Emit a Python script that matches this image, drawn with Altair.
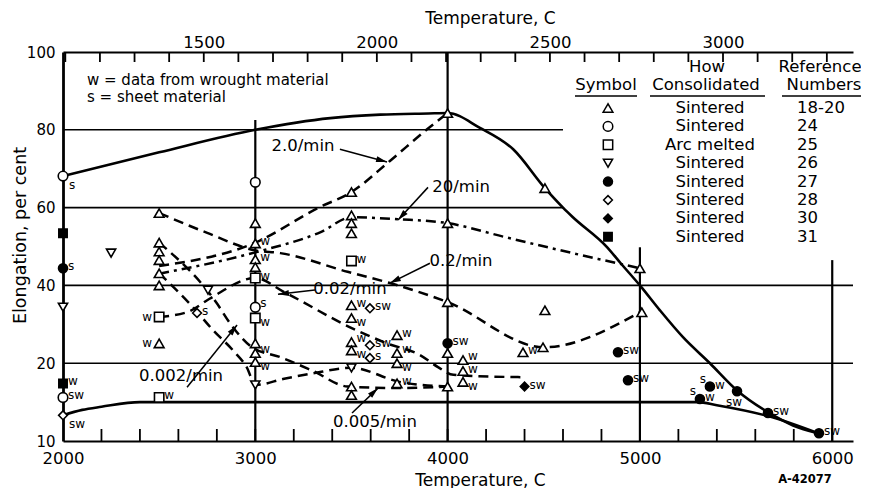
import math
import altair as alt
import pandas as pd

FONT = "DejaVu Sans"
W, H = 790, 389
T_MIN, T_MAX = 2000, 6108

# ---------------- envelope curves (solid) ----------------
upper_T = [2000, 2500, 3000, 3390, 3650, 3900, 4000, 4168, 4341, 4506, 4600, 4650,
           4830, 4900, 5000, 5104, 5224, 5364, 5505, 5666, 5796, 5926]
upper_E = [68.1, 74.2, 80.0, 83.0, 83.9, 84.2, 84.3, 80.5, 75.0, 65.0, 60.0, 57.6,
           49.8, 45.7, 40.0, 33.6, 26.7, 20.0, 16.5, 13.7, 12.0, 11.0]
lower_T = [2000, 2100, 2200, 2400, 2600, 3000, 4000, 5000, 5300, 5400, 5666, 5926]
lower_E = [13.3, 14.0, 14.4, 15.0, 15.0, 15.0, 15.0, 15.0, 15.0, 14.6, 13.2, 11.0]

# ---------------- strain-rate curves (dashed) ----------------
r20_T = [2500, 3000, 3340, 3500, 3750, 4000, 4300, 4650, 5000]
r20_E = [43.0, 48.5, 53.7, 57.5, 57.0, 56.0, 52.4, 48.3, 44.4]
r2_T = [2500, 3000, 3330, 3500, 3700, 3890, 4000]
r2_E = [45.0, 51.0, 60.0, 64.0, 72.0, 80.0, 84.3]
r02_T = [2500, 2750, 3000, 3130, 3480, 3700, 4000, 4500, 5000]
r02_E = [58.6, 53.5, 49.0, 48.3, 43.5, 40.6, 35.7, 24.1, 33.1]
r002_T = [2500, 2650, 2760, 3000, 3150, 3490, 3685, 3856, 3950, 4030, 4390]
r002_E = [31.9, 33.2, 36.5, 41.9, 38.3, 29.3, 25.1, 22.1, 19.5, 18.5, 18.2]
r0005_T = [2500, 2800, 2868, 2983, 3128, 3300, 3480, 3750, 4000]
r0005_E = [51.0, 35.4, 30.3, 24.1, 21.6, 19.0, 17.0, 16.8, 17.0]
r0002_T = [2500, 2676, 2780, 2884, 2957, 3000, 3150, 3300, 3500, 3750, 4000]
r0002_E = [43.1, 34.4, 28.5, 23.3, 19.4, 17.2, 18.0, 18.7, 19.4, 17.6, 17.0]

# ---------------- data points ----------------
pt_T = [2000, 2000, 2000, 2000, 2000, 2000, 2000, 2250,
        2500, 2500, 2500, 2500, 2500, 2500, 2500, 2500, 2500, 2697, 2754,
        3000, 3000, 3000, 3000, 3000, 3000, 3000, 3000, 3000, 3000, 3000, 3000,
        3500, 3500, 3500, 3500, 3500, 3500, 3596, 3500, 3737, 3500, 3596, 3500,
        3737, 3596, 3737, 3500, 3500, 3500, 3737,
        4000, 4000, 4000, 4000, 4000, 4000, 4080, 4080, 4080, 4392, 4496, 4506,
        4506, 4400, 5000, 5010, 4886, 4938, 5364, 5312, 5505, 5666, 5931]
pt_E = [68.1, 53.4, 44.4, 34.4, 17.4, 15.6, 13.3, 48.3,
        58.6, 51.0, 48.7, 46.5, 43.1, 40.0, 31.9, 25.1, 15.6, 32.9, 38.8,
        66.5, 56.0, 50.8, 46.7, 44.7, 41.9, 34.4, 31.6, 25.1, 22.6, 20.3, 17.2,
        64.0, 58.0, 56.0, 53.4, 46.3, 34.9, 34.1, 31.6, 27.2, 25.4, 24.6, 23.3,
        22.6, 21.3, 20.0, 19.4, 17.0, 15.9, 17.4,
        84.3, 56.0, 35.7, 25.1, 22.6, 17.0, 20.8, 19.0, 17.6, 22.8, 24.1, 33.6,
        65.0, 17.0, 44.4, 33.1, 22.8, 17.8, 17.0, 15.4, 16.4, 13.6, 11.0]
pt_sym = ["circ", "fsq", "fcirc", "itri", "fsq", "circ", "diam", "itri",
          "tri", "tri", "tri", "tri", "tri", "tri", "sq", "tri", "sq", "diam", "itri",
          "circ", "tri", "tri", "tri", "tri", "sq", "circ", "sq", "tri", "tri", "tri", "itri",
          "tri", "tri", "tri", "tri", "sq", "tri", "diam", "tri", "tri", "tri", "diam", "tri",
          "tri", "diam", "tri", "itri", "tri", "tri", "tri",
          "tri", "tri", "tri", "fcirc", "tri", "tri", "tri", "tri", "tri", "tri", "tri", "tri",
          "tri", "fdiam", "tri", "tri", "fcirc", "fcirc", "fcirc", "fcirc", "fcirc", "fcirc", "fcirc"]
pt_lab = ["s", "", "s", "", "w", "sw", "sw", "",
          "", "", "", "", "", "", "w", "w", "w", "s", "",
          "", "", "w", "w", "", "w", "s", "w", "", "w", "w", "",
          "", "", "", "", "w", "w", "sw", "w", "w", "w", "sw", "w",
          "w", "s", "w", "", "", "", "w",
          "", "", "", "sw", "", "", "w", "w", "w", "w", "", "",
          "", "sw", "", "", "sw", "sw", "s|w", "s|w", "sw", "sw", "sw"]
pt_pos = ["br", "", "r", "", "r", "r", "br", "",
          "", "", "", "", "", "", "l", "l", "r", "r", "",
          "", "", "r", "r", "", "r", "ru", "rd", "", "ru", "rd", "",
          "", "", "", "", "r", "r", "r", "rd", "r", "ru", "r", "rd",
          "ru", "r", "rd", "", "", "", "r",
          "", "", "", "r", "", "", "ru", "r", "rd", "r", "", "",
          "", "r", "", "", "r", "r", "tl|r", "tl|r", "b", "r", "r"]

# ---------------- legend table ----------------
leg_sym = ["tri", "circ", "sq", "itri", "fcirc", "diam", "fdiam", "fsq"]
leg_how = ["Sintered", "Sintered", "Arc melted", "Sintered", "Sintered",
           "Sintered", "Sintered", "Sintered"]
leg_ref = ["18-20", "24", "25", "26", "27", "28", "30", "31"]

# ---------------- annotations ----------------
rate_text = ["2.0/min", "20/min", "0.2/min", "0.02/min", "0.002/min", "0.005/min"]
rate_lab_T = [3248, 4070, 4070, 3492, 2614, 3622]
rate_lab_E = [75.8, 65.2, 46.2, 39.0, 18.3, 12.4]
arr_T1 = [3440, 3898, 3908, 3310, 2645, 3503]
arr_E1 = [75.0, 65.2, 45.7, 38.8, 16.9, 13.6]
arr_T2 = [3685, 3742, 3700, 3118, 2905, 3638]
arr_E2 = [71.7, 56.8, 40.6, 37.7, 29.8, 16.8]

# grid lines
hgrid_E = [20, 40, 60, 80]
hgrid_T2 = [T_MAX, T_MAX, 4600, 4600]
vgrid_T = [3000, 4000, 5000, 6000]
vgrid_E2 = [82.5, 100, 49.8, 46.5]

bottom_tick_T = list(range(2200, 6001, 200))
top_tick_C = list(range(1100, 3301, 100))
top_label_C = [1500, 2000, 2500, 3000]

# ---------------- helpers ----------------
SYM_DOMAIN = ["tri", "circ", "sq", "itri", "fcirc", "diam", "fdiam", "fsq"]
SHAPES = ["triangle-up", "circle", "square", "triangle-down", "circle", "diamond", "diamond", "square"]
SIZES = [95, 70, 70, 95, 70, 85, 85, 70]
FILLS = ["white", "white", "white", "white", "black", "white", "black", "black"]

xs = alt.Scale(domain=[T_MIN, T_MAX], nice=False, zero=False)
ys = alt.Scale(domain=[10, 20, 100], range=[H, 0.8 * H, 0], nice=False, zero=False)


def c_to_f(c):
    return c * 9 / 5 + 32


def px(t):
    return (t - T_MIN) * W / (T_MAX - T_MIN)


def py(e):
    if e <= 20:
        return H - (e - 10) * 0.2 * H / 10
    return 0.8 * H - (e - 20) * 0.8 * H / 80


def curve_df(T, E, name):
    return pd.DataFrame({"T": T, "E": E, "curve": name, "order": list(range(len(T)))})


env_df = pd.concat([curve_df(upper_T, upper_E, "upper"), curve_df(lower_T, lower_E, "lower")])
rate_df = pd.concat([
    curve_df(r2_T, r2_E, "2.0/min"), curve_df(r20_T, r20_E, "20/min"),
    curve_df(r02_T, r02_E, "0.2/min"), curve_df(r002_T, r002_E, "0.02/min"),
    curve_df(r0005_T, r0005_E, "0.005/min"), curve_df(r0002_T, r0002_E, "0.002/min")])
RATE_NAMES = ["2.0/min", "20/min", "0.2/min", "0.02/min", "0.005/min", "0.002/min"]
RATE_DASH = [[10, 6], [10, 5, 3, 5], [10, 6], [10, 6], [10, 6], [10, 6]]

pts_df = pd.DataFrame({"T": pt_T, "E": pt_E, "sym": pt_sym})
lab_rows = []
for t, e, lab, pos in zip(pt_T, pt_E, pt_lab, pt_pos):
    if not lab:
        continue
    for l, p in zip(lab.split("|"), pos.split("|")):
        lab_rows.append({"T": t, "E": e, "lab": l, "pos": p})
labs_df = pd.DataFrame(lab_rows)

arr_df = pd.DataFrame({"T1": arr_T1, "E1": arr_E1, "T2": arr_T2, "E2": arr_E2})
arr_df["ang"] = [
    (math.degrees(math.atan2(px(b) - px(a), -(py(d) - py(c)))) + 360) % 360
    for a, c, b, d in zip(arr_T1, arr_E1, arr_T2, arr_E2)
]
ARROW = "M0,0L-0.55,2L0.55,2Z"

hgrid_df = pd.DataFrame({"E": hgrid_E, "T1": [T_MIN] * 4, "T2": hgrid_T2})
vgrid_df = pd.DataFrame({"T": vgrid_T, "E1": [10] * 4, "E2": vgrid_E2})
bt_df = pd.DataFrame({"T": bottom_tick_T})
tt_df = pd.DataFrame({"F": [c_to_f(c) for c in top_tick_C]})

shape_enc = alt.Shape("sym:N", scale=alt.Scale(domain=SYM_DOMAIN, range=SHAPES), legend=None)
size_enc = alt.Size("sym:N", scale=alt.Scale(domain=SYM_DOMAIN, range=SIZES), legend=None)
fill_enc = alt.Fill("sym:N", scale=alt.Scale(domain=SYM_DOMAIN, range=FILLS), legend=None)

# ---------------- axes ----------------
bottom_axis = alt.Axis(
    orient="bottom", values=[2000, 3000, 4000, 5000, 6000], format="d",
    ticks=False, tickSize=0, grid=False, domain=True, domainColor="black", domainWidth=2.2,
    labelFont=FONT, labelFontSize=16.5, labelColor="black", labelPadding=22,
    labelBaseline="alphabetic", labelFlush=False,
    title="Temperature, C", titleFont=FONT, titleFontSize=17, titleFontWeight="normal",
    titleColor="black", titleX=417, titleY=44, titleBaseline="alphabetic", titleAlign="center")
top_axis = alt.Axis(
    orient="top", values=[c_to_f(c) for c in top_label_C],
    labelExpr="format(round((datum.value - 32) * 5 / 9), 'd')",
    ticks=False, tickSize=0, grid=False, domain=True, domainColor="black", domainWidth=2.2,
    labelFont=FONT, labelFontSize=16.5, labelColor="black", labelPadding=5,
    labelBaseline="alphabetic", labelFlush=False,
    title="Temperature, C", titleFont=FONT, titleFontSize=17, titleFontWeight="normal",
    titleColor="black", titleX=427, titleY=-29, titleBaseline="alphabetic", titleAlign="center")
left_axis = alt.Axis(
    orient="left", values=[10, 20, 40, 60, 80, 100], ticks=False, tickSize=0, grid=False,
    domain=True, domainColor="black", domainWidth=2.8,
    labelFont=FONT, labelFontSize=15, labelColor="black", labelPadding=8,
    title="Elongation, per cent", titleFont=FONT, titleFontSize=17.5, titleFontWeight="normal",
    titleColor="black", titleX=-38, titleY=183, titleAngle=270, titleBaseline="alphabetic",
    titleAlign="center")


def X(f, axis=None):
    return alt.X(f, type="quantitative", scale=xs, axis=axis)


def Y(f, axis=None):
    return alt.Y(f, type="quantitative", scale=ys, axis=axis)


def PX(f):
    return alt.X(f, type="quantitative", scale=None, axis=None)


def PY(f):
    return alt.Y(f, type="quantitative", scale=None, axis=None)


layers = []

# first layer carries the left axis
layers.append(alt.Chart(hgrid_df).mark_rule(color="black", strokeWidth=1.6).encode(
    x=X("T1"), x2="T2", y=Y("E", left_axis)))
layers.append(alt.Chart(vgrid_df).mark_rule(color="black", strokeWidth=2.2).encode(
    x=X("T"), y=Y("E1"), y2="E2"))
layers.append(alt.Chart(bt_df).mark_rule(color="black", strokeWidth=1.8).encode(
    x=X("T"), y=alt.value(H), y2=alt.value(H - 12)))
layers.append(alt.Chart(tt_df).mark_rule(color="black", strokeWidth=1.8).encode(
    x=X("F", top_axis), y=alt.value(0), y2=alt.value(10)))

layers.append(alt.Chart(env_df).mark_line(color="black", strokeWidth=2.6, interpolate="monotone").encode(
    x=X("T", bottom_axis), y=Y("E"), detail="curve:N", order="order:Q"))

layers.append(alt.Chart(rate_df).mark_line(color="black", strokeWidth=2.5, interpolate="monotone").encode(
    x=X("T"), y=Y("E"), detail="curve:N", order="order:Q",
    strokeDash=alt.StrokeDash("curve:N", scale=alt.Scale(domain=RATE_NAMES, range=RATE_DASH), legend=None)))

layers.append(alt.Chart(arr_df).mark_rule(color="black", strokeWidth=1.5).encode(
    x=X("T1"), y=Y("E1"), x2="T2", y2="E2"))
layers.append(alt.Chart(arr_df).mark_point(shape=ARROW, filled=True, color="black", size=120, opacity=1).encode(
    x=X("T2"), y=Y("E2"), angle=alt.Angle("ang:Q", scale=None)))

layers.append(alt.Chart(pts_df).mark_point(filled=True, stroke="black", strokeWidth=1.6, opacity=1).encode(
    x=X("T"), y=Y("E"), shape=shape_enc, size=size_enc, fill=fill_enc))

POS = {
    "r": dict(dx=5, dy=-2, align="left"),
    "ru": dict(dx=5, dy=-4, align="left"),
    "rd": dict(dx=5, dy=4, align="left"),
    "l": dict(dx=-7, dy=0, align="right"),
    "br": dict(dx=6, dy=9, align="left"),
    "tl": dict(dx=-4, dy=-8, align="right"),
    "b": dict(dx=-3, dy=11, align="center"),
}
for p, cfg in POS.items():
    sub = labs_df[labs_df["pos"] == p]
    if len(sub) == 0:
        continue
    layers.append(alt.Chart(sub).mark_text(font=FONT, fontSize=12, baseline="middle", color="black", **cfg).encode(
        x=X("T"), y=Y("E"), text="lab:N"))

rl_df = pd.DataFrame({"T": rate_lab_T, "E": rate_lab_E, "txt": rate_text})
layers.append(alt.Chart(rl_df).mark_text(font=FONT, fontSize=16.5, baseline="middle", align="center", color="black").encode(
    x=X("T"), y=Y("E"), text="txt:N"))

# legend table (pixel layout)
ROW0, ROWH = 56, 18.4
leg_df = pd.DataFrame({"sym": leg_sym, "how": leg_how, "ref": leg_ref})
leg_df["ly"] = [ROW0 + i * ROWH for i in range(len(leg_sym))]
layers.append(alt.Chart(leg_df).mark_point(filled=True, stroke="black", strokeWidth=1.5, opacity=1).encode(
    x=alt.value(545), y=PY("ly"), shape=shape_enc, size=size_enc, fill=fill_enc))
layers.append(alt.Chart(leg_df).mark_text(font=FONT, fontSize=16.5, baseline="middle", align="center", color="black").encode(
    x=alt.value(647), y=PY("ly"), text="how:N"))
layers.append(alt.Chart(leg_df).mark_text(font=FONT, fontSize=16.5, baseline="middle", align="left", color="black").encode(
    x=alt.value(734), y=PY("ly"), text="ref:N"))

hdr_df = pd.DataFrame({
    "txt": ["Symbol", "How", "Consolidated", "Reference", "Numbers"],
    "hx": [543, 644, 643, 757, 761],
    "hy": [33, 15, 33, 15, 33]})
layers.append(alt.Chart(hdr_df).mark_text(font=FONT, fontSize=16.5, baseline="middle", align="center", color="black").encode(
    x=PX("hx"), y=PY("hy"), text="txt:N"))
ul_df = pd.DataFrame({"u1": [512, 587, 719], "u2": [574, 702, 798], "uy": [44, 44, 44]})
layers.append(alt.Chart(ul_df).mark_rule(color="black", strokeWidth=1.6).encode(
    x=PX("u1"), x2="u2:Q", y=PY("uy")))

note_df = pd.DataFrame({
    "txt": ["w = data from wrought material", "s = sheet material"],
    "nx": [24, 24], "ny": [28, 45]})
layers.append(alt.Chart(note_df).mark_text(font=FONT, fontSize=15, baseline="middle", align="left", color="black").encode(
    x=PX("nx"), y=PY("ny"), text="txt:N"))
code_df = pd.DataFrame({"txt": ["A-42077"], "nx": [742], "ny": [428]})
layers.append(alt.Chart(code_df).mark_text(font=FONT, fontSize=11.5, fontWeight="bold", baseline="middle", align="center", color="black").encode(
    x=PX("nx"), y=PY("ny"), text="txt:N"))

chart = alt.layer(*layers).resolve_axis(x="independent", y="independent").properties(
    width=W, height=H,
    autosize=alt.AutoSizeParams(type="none"),
    padding={"left": 55, "top": 44, "right": 8, "bottom": 47},
    background="white",
).configure_view(stroke=None)

chart.save("out.html", embed_options={"renderer": "svg", "actions": False})
